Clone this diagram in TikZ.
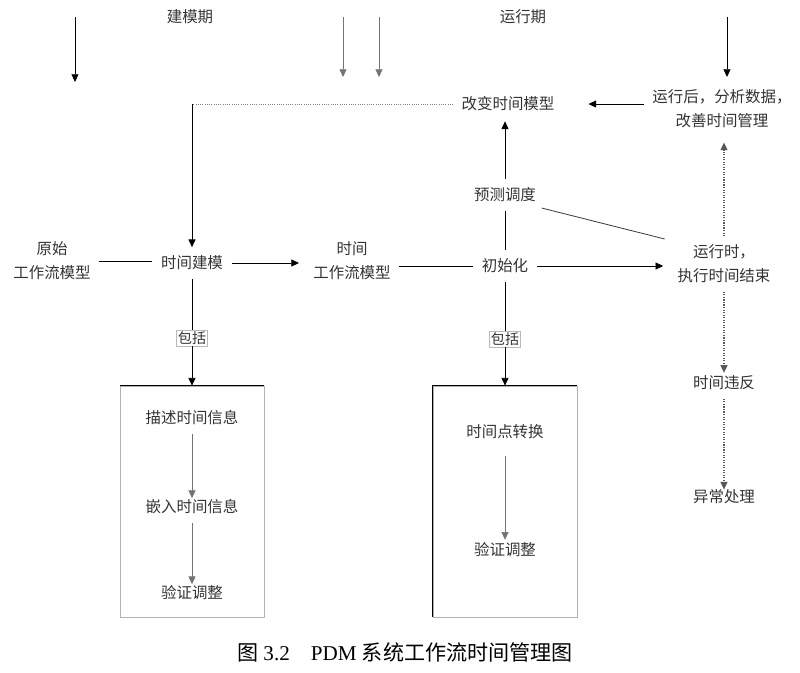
\documentclass[tikz,border=0pt]{standalone}
\usepackage{fontspec}
\setmainfont{Liberation Serif}
\newfontfamily\cjk{Noto Sans CJK SC}
\usetikzlibrary{arrows.meta,positioning}

\begin{document}
\begin{tikzpicture}[
  x=0.025cm, y=-0.025cm,
  every node/.style={font=\cjk\fontsize{11}{17}\selectfont, text=black!80,
    inner sep=6pt},
  flow/.style={-{Triangle[length=5.5pt,width=5pt]}, line width=0.6pt},
  link/.style={line width=0.6pt},
  faint/.style={-{Triangle[length=5.5pt,width=5pt]}, line width=0.5pt, black!55},
  rundot/.style={-{Triangle[length=5.5pt,width=5pt]}, line width=0.8pt,
    black!65, densely dotted},
  tag/.style={draw=gray!55, line width=0.4pt, inner sep=1pt, fill=white,
    font=\cjk\fontsize{10}{12}\selectfont},
  group/.style={draw=gray!60, line width=0.5pt, minimum width=3.6cm,
    minimum height=5.775cm, inner sep=0pt}
]
\useasboundingbox (0,0) rectangle (800,672);

% phase headings and their markers
\node (build) at (190,17) {建模期};
\node (runph) at (523,17) {运行期};
\coordinate (m1a) at (75,17);  \coordinate (m1b) at (75,82);
\coordinate (m2a) at (343,17); \coordinate (m2b) at (343,77);
\coordinate (m3a) at (379,17); \coordinate (m3b) at (379,77);
\coordinate (m4a) at (727,17); \coordinate (m4b) at (727,77);
\draw[flow] (m1a) -- (m1b);
\draw[faint] (m2a) -- (m2b);
\draw[faint] (m3a) -- (m3b);
\draw[flow] (m4a) -- (m4b);

% main row
\node[align=center] (orig) at (52,261) {原始\\工作流模型};
\node (tmod) at (192,263) {时间建模};
\node[align=center] (twf) at (352,261) {时间\\工作流模型};
\node (init) at (505,266) {初始化};
\node[align=center] (run) at (724,264) {运行时，\\执行时间结束};

\draw[link] (orig.east) -- (tmod.west |- orig.east);
\draw[flow] (tmod.east) -- ([xshift=-4pt]twf.west |- tmod.east);
\draw[link] (twf.east |- init.west) -- (init.west);
\draw[flow] (init.east) -- ([xshift=-4pt]run.west |- init.east);

% feedback loop
\node (chg) at (508,104) {改变时间模型};
\node[align=center] (post) at (722,109) {运行后，分析数据，\\改善时间管理};
\node (pred) at (505,195) {预测调度};
\coordinate (corner) at (192,104);

\draw[flow] (post.west |- chg.east) -- ([xshift=18pt]chg.east);
\draw[densely dotted, gray, line width=0.6pt] (chg.west) -- (corner);
\draw[flow] (corner) -- (tmod.north);
\draw[link] (init.north) -- (pred.south);
\draw[flow] (pred.north) -- ([yshift=-1pt]pred.north |- chg.south);
\draw[link, black!75] ([xshift=-2pt,yshift=2pt]pred.south east) -- ([xshift=-3pt,yshift=-2pt]run.north west);
\draw[rundot] (run.north) -- ([yshift=-4pt]run.north |- post.south);

% run-time exception path
\node (viol) at (724,383) {时间违反};
\node (exc) at (724,497) {异常处理};
\draw[rundot] (run.south) -- ([yshift=-4pt]viol.north);
\draw[rundot] (viol.south) -- ([yshift=-6pt]exc.north);

% modelling group
\node[group] (box1) at (192,501.5) {};
\draw[link] (box1.north west) -- (box1.north east);
\node[tag] (inc1) at (192,338) {包括};
\draw[link] (tmod.south) -- (inc1.north);
\draw[flow] (inc1.south) -- (box1.north);
\node (desc) at (192,418) {描述时间信息};
\node (embd) at (192,507) {嵌入时间信息};
\node (chk1) at (192,593) {验证调整};
\draw[faint] (desc.south) -- ([yshift=-5pt]embd.north);
\draw[faint] (embd.south) -- ([yshift=-5pt]chk1.north);

% initialisation group
\node[group] (box2) at (505,501.5) {};
\draw[link] (box2.south west) -- (box2.north west) -- (box2.north east);
\node[tag] (inc2) at (505,339) {包括};
\draw[link] (init.south) -- (inc2.north);
\draw[flow] (inc2.south) -- (box2.north);
\node (conv) at (505,432) {时间点转换};
\node (chk2) at (505,550) {验证调整};
\draw[faint] ([yshift=-6pt]conv.south) -- ([yshift=-4pt]chk2.north);

% caption
\node[font=\fontsize{15}{18}\selectfont, text=black] (cap) at (405,652)
  {{\cjk 图} 3.2\quad PDM {\cjk 系统工作流时间管理图}};
\end{tikzpicture}
\end{document}
